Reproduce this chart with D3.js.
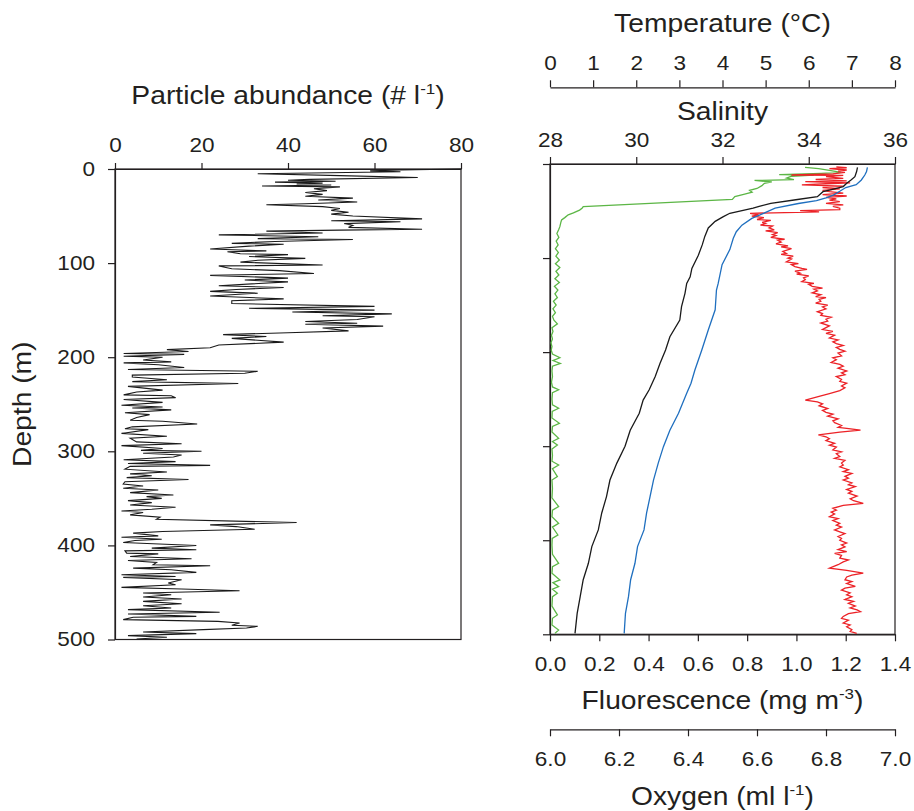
<!DOCTYPE html>
<html>
<head>
<meta charset="utf-8">
<script src="https://cdn.jsdelivr.net/npm/d3@7"></script>
<style>
  body { margin: 0; background: #fff; }
  text { font-family: "Liberation Sans", Arial, sans-serif; fill: #231f20; }
</style>
</head>
<body>
<svg id="drawing_region"></svg>
<script>
// ---- data: [depth (m), value] pairs ----
const particleProfile = [
  [0,80],[1,66],[2,59],[3,66],[5,33],[7,52],[9,70],[11,45],[12,40],[13,51],[14,37],[15,48],[16,42],
  [17,50],[18,34],[19,52],[21,46],[23,49],[25,44],[27,48],[29,44],[31,55],[33,47],[35,56],[37,44],
  [38,35],[40,48],[42,52],[44,50],[46,54],[48,50],[50,55],[53,71],[55,50],[56,66],[58,53],[60,55],
  [62,54],[64,71],[65,52],[66,35],[68,48],[70,24],[72,47],[74,33],[75,55],[77,37],[79,27],[80,39],
  [82,31],[85,22],[87,35],[88,26],[90,29],[91,40],[93,31],[95,44],[97,33],[99,29],[102,48],[103,24],
  [106,27],[108,38],[111,46],[113,22],[116,40],[118,30],[120,40],[124,24],[126,39],[128,28],[130,22],
  [132,33],[135,22],[138,39],[140,27],[143,27],[146,60],[148,31],[150,60],[152,41],[154,64],[156,48],
  [157,60],[160,56],[162,44],[164,56],[165,44],[167,62],[169,48],[172,54],[174,40],[176,25],[178,35],
  [180,27],[182,33],[184,39],[187,24],[190,22],[192,12],[194,17],[196,2],[197,16],[199,2],[200,11],
  [203,6.5],[205,13],[206,2],[208,10],[211,16],[213,3],[215,33],[217,30],[219,4],[221,4],[224,12],
  [226,4],[228,28.5],[231,3],[235,11],[237,5],[240,2],[241,13],[243,14],[245,2],[248,11],[251,1.5],
  [253,11],[254,4],[256,13],[259,2.3],[261,8],[264,5],[267,3.5],[268,11],[271,19],[274,4],[276,2.3],
  [277,7.7],[281,1.5],[284,12],[286,3.5],[290,5],[292,15.4],[294,1.5],[297,11],[299,6],[300,20],
  [302,6.5],[304,15.4],[306,13.5],[309,2],[311,14],[313,3],[315,22],[316,3.5],[319,2.3],[322,12],
  [324,3.5],[326,8.5],[328,2.7],[330,17],[332.3,2.3],[334.7,1.9],[336.9,6.5],[339.3,1.9],[341.1,10],
  [343.9,3.5],[346.4,13.5],[348.2,7.3],[350,10.8],[352.4,3],[354.5,8.5],[357,3.5],[359.5,14],
  [361.6,8.5],[363.4,1.5],[365.1,6.5],[367.6,3.5],[370.1,10.4],[372.2,9.6],[375.7,42],[378.2,22],
  [380,28],[382.8,32.3],[385.3,11],[387,4.2],[389.9,10],[391.3,1.5],[393.4,10.8],[394.8,4.6],
  [396.9,1.9],[398.3,8.8],[400.1,18.8],[402.9,8.5],[404.7,18.8],[405.8,2.3],[408.2,2.7],[409,10],
  [411.8,3.5],[414.2,17.7],[416,3],[418.1,9.6],[420.6,8.8],[421.7,22],[424.1,4.2],[425.9,13],
  [428.7,18.8],[431.2,1.5],[433,14],[434,1.9],[436.5,15.4],[440,12.3],[441.8,14],[444.6,1.5],
  [446.4,15.4],[448.2,28.8],[450.6,6.5],[452.4,13],[454.9,6.5],[457,15.4],[459.5,6.5],[462,15.4],
  [464.1,6.5],[466.5,13],[468.3,3],[471.1,24.2],[472.9,3],[475.4,18.8],[476.4,4.2],[478.9,1.9],
  [480.7,23.8],[482.4,28.8],[484.9,27],[486,33],[487.7,30.4],[489.5,20.4],[492,6.5],[493.8,18.8],
  [495.9,3],[497.6,12],[499.4,5]
];

const temperatureProfile = [
  [3.5,7.13],[8,7.11],[13.5,7.07],[17,6.98],[20.5,6.88],[24,6.8],[27.6,6.5],[29.4,6.33],[34.7,6.2],
  [38,5.7],[41.8,5.12],[45,4.85],[47,4.71],[52.4,4.17],[56,4.02],[61,3.83],[68,3.67],[77,3.59],
  [86,3.53],[97,3.44],[111,3.29],[120,3.25],[127,3.17],[137.5,3.13],[151.7,3.05],[166,3.01],
  [183.6,2.78],[197.7,2.68],[212,2.55],[226,2.44],[240,2.30],[251,2.16],[265,2.07],[283,1.86],
  [300,1.74],[318,1.55],[336,1.39],[353.6,1.31],[371,1.20],[389,1.12],[406.8,0.97],[424.5,0.89],
  [442,0.77],[460,0.70],[477.7,0.63],[499,0.58]
];

const salinityProfile = [
  [3.5,35.36],[8,35.34],[11.7,35.30],[17,35.22],[22,35.1],[25,34.86],[29,34.72],[33,34.57],
  [36,34.4],[39,34.18],[42,33.76],[47,33.22],[52.4,32.95],[57.8,32.68],[65,32.45],[72,32.32],
  [79,32.25],[91,32.17],[107,31.99],[127,31.9],[134,31.86],[155,31.83],[176.5,31.67],[197.7,31.52],
  [219,31.36],[233,31.27],[243.8,31.17],[265,30.98],[283,30.78],[300.5,30.63],[318,30.51],[336,30.40],
  [353.6,30.32],[371,30.24],[389,30.18],[406.8,30.03],[424.5,29.97],[442,29.87],[460,29.82],
  [477.7,29.75],[499,29.72]
];

const fluorescenceProfile = [
  [3.5,1.035],[5,1.09],[7,1.14],[9,1.18],[10,1.1],[11.2,0.93],[11.7,1.07],[13,0.98],[15,0.96],
  [16.7,0.99],[17.5,0.83],[19,0.9],[20.5,0.87],[23,0.86],[26,0.84],[28,0.81],[30,0.82],[32,0.79],
  [34.7,0.75],[37.6,0.74],[45.4,0.135],[47,0.13],[49,0.12],[52,0.095],[54,0.074],
  [57,0.06],[59.5,0.047],[62,0.044],[66.6,0.04],[70,0.035],[74,0.028],[78,0.036],[82,0.025],[86,0.033],
  [90,0.022],[94,0.034],[98,0.024],[102,0.038],[106,0.022],[110,0.04],[114,0.024],[118,0.036],
  [122,0.02],[126,0.038],[130,0.018],[134,0.032],[138,0.02],[142,0.03],[146,0.014],[150,0.025],
  [154,0.012],[158,0.022],[162,0.01],[166,0.016],[170,0.03],[174,0.008],[178,0.012],[182,0.006],
  [186,0.01],[190,0.004],[194,0.008],[198,0.005],[202,0.01],[206,0.04],[209,0.012],[212,0.042],
  [215,0.01],[220,0.008],[226,0.01],[232,0.006],[237,0.01],[240,0.035],[243,0.01],[250,0.008],
  [256,0.01],[259.7,0.035],[263,0.009],[270,0.008],[275.7,0.038],[279,0.01],[285,0.008],[291.6,0.035],
  [295,0.01],[298.7,0.03],[303,0.008],[310,0.01],[316,0.008],[320,0.035],[324,0.01],[332.4,0.03],
  [336,0.008],[345,0.01],[355,0.008],[364.3,0.035],[368,0.01],[375,0.008],[382,0.035],[386,0.01],
  [394.4,0.032],[398,0.009],[405,0.008],[415,0.01],[424.5,0.035],[428,0.01],[435,0.008],[442.2,0.04],
  [445,0.012],[449.3,0.035],[452,0.01],[456.4,0.03],[460,0.01],[470,0.008],[479.4,0.03],[483,0.01],
  [490,0.008],[495.4,0.035],[499,0.02]
];

const oxygenProfile = [
  [3,6.83],[4,6.86],[5,6.81],[6.4,6.86],[7.5,6.835],[9,6.855],[10.5,6.82],[11.7,6.70],[12,6.85],
  [13.5,6.8],[15.2,6.85],[16.5,6.77],[18,6.86],[18.8,6.74],[20,6.87],[21,6.8],[22.3,6.73],[23.5,6.85],
  [25,6.79],[26.5,6.84],[28,6.79],[29.4,6.81],[31,6.85],[32.5,6.79],[34,6.86],[35.5,6.8],[37,6.83],
  [38.5,6.81],[40,6.84],[41.8,6.8],[43.5,6.85],[45,6.82],[47,6.84],[48.5,6.84],[49.5,6.725],
  [51,6.78],[52.4,6.58],[54,6.605],[55.5,6.585],[57,6.62],[59,6.6],[60,6.64],[62,6.615],[63,6.625],
  [65,6.61],[66,6.645],[68,6.635],[70,6.65],[71,6.625],[73,6.66],[75,6.645],[76,6.655],[78,6.64],
  [80,6.68],[81,6.66],[83,6.67],[85,6.655],[87,6.69],[88,6.67],[90,6.7],[93,6.675],[95,6.685],
  [96,6.67],[98,6.705],[100,6.69],[101,6.7],[104,6.685],[106,6.72],[107,6.7],[109,6.71],[111,6.73],
  [112,6.745],[114,6.71],[116,6.725],[117,6.715],[119,6.75],[121,6.735],[123,6.74],[125,6.73],
  [127,6.765],[128,6.75],[130,6.76],[132,6.79],[133,6.765],[135,6.775],[137,6.76],[139,6.785],
  [141,6.77],[142,6.8],[144,6.78],[146,6.785],[148,6.77],[150,6.805],[152,6.79],[154,6.8],[157,6.775],
  [159,6.79],[161,6.785],[163,6.815],[165,6.8],[167,6.805],[169,6.785],[172,6.81],[174,6.8],
  [176,6.79],[178,6.82],[180,6.8],[182,6.825],[185,6.81],[187,6.835],[189,6.82],[191,6.83],
  [193,6.85],[195,6.83],[197,6.84],[199,6.855],[201,6.835],[204,6.845],[206,6.82],[208,6.83],
  [211,6.815],[213,6.84],[215,6.85],[217,6.835],[220,6.86],[222,6.845],[224,6.855],[226,6.83],
  [229,6.845],[231,6.84],[233,6.86],[236,6.845],[238,6.855],[241,6.84],[244,6.81],[247,6.78],
  [251,6.74],[253,6.775],[255,6.79],[257,6.78],[260,6.805],[262,6.79],[264,6.8],[266,6.82],
  [268,6.805],[271,6.835],[273,6.82],[275,6.825],[278,6.845],[280,6.835],[281,6.86],[283,6.9],
  [285,6.84],[288,6.778],[290,6.8],[292,6.81],[294,6.8],[297,6.825],[299,6.81],[301,6.83],[304,6.82],
  [306,6.845],[308,6.83],[311,6.84],[313,6.825],[315,6.855],[318,6.845],[320,6.85],[322,6.84],
  [325,6.865],[327,6.85],[329,6.875],[332,6.855],[334,6.865],[336,6.85],[339,6.875],[341,6.865],
  [343,6.885],[346,6.86],[348,6.875],[350,6.865],[353,6.89],[356,6.87],[358,6.88],[360.7,6.908],
  [363,6.85],[366,6.82],[368,6.83],[370,6.815],[372,6.825],[375,6.81],[377,6.835],[379,6.82],
  [382,6.84],[384,6.83],[386,6.845],[389,6.825],[391,6.84],[393,6.855],[396,6.835],[398,6.845],
  [400,6.84],[403,6.86],[405,6.845],[407,6.855],[410,6.835],[412,6.86],[414,6.825],[416,6.845],
  [419,6.84],[421,6.865],[423,6.85],[426,6.835],[429.8,6.81],[432,6.86],[435,6.908],[437,6.875],
  [439,6.86],[442,6.855],[444,6.875],[446,6.86],[449,6.885],[451,6.855],[453,6.845],[456,6.87],
  [458,6.86],[460,6.875],[463,6.855],[465,6.88],[467,6.865],[470,6.885],[472,6.87],[474,6.89],
  [476,6.9],[478,6.865],[481,6.85],[483,6.845],[485,6.865],[488,6.85],[490,6.87],[492,6.86],
  [495,6.875],[497,6.87],[499,6.889]
];

const particleTicks = [0, 20, 40, 60, 80];
const depthTicks = [0, 100, 200, 300, 400, 500];
const temperatureTicks = [0, 1, 2, 3, 4, 5, 6, 7, 8];
const salinityTicks = [28, 30, 32, 34, 36];
const fluorescenceTicks = [0, 0.2, 0.4, 0.6, 0.8, 1.0, 1.2, 1.4];
const oxygenTicks = [6.0, 6.2, 6.4, 6.6, 6.8, 7.0];

// ---- layout ----
const SX = 1.13;          // the original lettering is a bit wider than Arial
const AXIS = '#231f20';
const left  = {x0: 115, x1: 461, y0: 169, y1: 639.5};
const right = {x0: 550, x1: 895, y0: 164, y1: 634.3};

const svg = d3.select('#drawing_region')
    .attr('width', 914)
    .attr('height', 811);

function styleAxis(g, fontSize) {
    g.selectAll('line').attr('stroke', AXIS).attr('stroke-width', 1.2);
    g.selectAll('path.domain').attr('stroke', AXIS).attr('stroke-width', 1.2);
    g.selectAll('text')
        .style('font-size', fontSize + 'px')
        .attr('fill', AXIS)
        .attr('x', function() { return (+d3.select(this).attr('x') || 0) / SX; })
        .attr('transform', `scale(${SX},1)`);
}

function addTitle(x, y, main, sup, rotate) {
    const t = svg.append('text')
        .attr('text-anchor', 'middle')
        .attr('transform', `translate(${x},${y})` + (rotate ? ' rotate(-90)' : '') + ` scale(${SX},1)`)
        .style('font-size', '25px');
    t.append('tspan').text(main);
    if (sup) {
        t.append('tspan').attr('dy', -10).style('font-size', '15px').text(sup);
        t.append('tspan').attr('dy', 10).text(')');
    }
}

// ---- left panel: particle abundance ----
const px = d3.scaleLinear().domain([0, 80]).range([left.x0, left.x1]);
const py = d3.scaleLinear().domain([0, 500]).range([left.y0, left.y1]);

svg.append('rect')
    .attr('x', left.x0).attr('y', left.y0)
    .attr('width', left.x1 - left.x0).attr('height', left.y1 - left.y0)
    .attr('fill', 'none').attr('stroke', AXIS).attr('stroke-width', 1.2);

svg.append('g')
    .attr('transform', `translate(0,${left.y0})`)
    .call(d3.axisTop(px).tickValues(particleTicks).tickSize(6).tickSizeOuter(0).tickPadding(11))
    .call(g => styleAxis(g, 20));

svg.append('g')
    .attr('transform', `translate(${left.x0},0)`)
    .call(d3.axisLeft(py).tickValues(depthTicks).tickSize(7).tickSizeOuter(0).tickPadding(13))
    .call(g => styleAxis(g, 20));

svg.append('path')
    .attr('d', d3.line().x(d => px(d[1])).y(d => py(d[0]))(particleProfile))
    .attr('fill', 'none')
    .attr('stroke', '#1a1a1a')
    .attr('stroke-width', 1.1);

addTitle((left.x0 + left.x1) / 2, 104, 'Particle abundance (# l', '-1');
addTitle(31, (left.y0 + left.y1) / 2, 'Depth (m)', null, true);

// ---- right panel: CTD profiles ----
const tx = d3.scaleLinear().domain([0, 8]).range([right.x0, right.x1]);
const sx = d3.scaleLinear().domain([28, 36]).range([right.x0, right.x1]);
const fx = d3.scaleLinear().domain([0, 1.4]).range([right.x0, right.x1]);
const ox = d3.scaleLinear().domain([6, 7]).range([right.x0, right.x1]);
const ry = d3.scaleLinear().domain([0, 500]).range([right.y0, right.y1]);

svg.append('rect')
    .attr('x', right.x0).attr('y', right.y0)
    .attr('width', right.x1 - right.x0).attr('height', right.y1 - right.y0)
    .attr('fill', 'none').attr('stroke', AXIS).attr('stroke-width', 1.2);

svg.append('g')
    .attr('transform', `translate(${right.x0},0)`)
    .call(d3.axisLeft(ry).tickValues(depthTicks).tickSize(7).tickSizeOuter(0).tickFormat(''))
    .call(g => styleAxis(g, 20));

svg.append('g')
    .attr('transform', `translate(0,${right.y0})`)
    .call(d3.axisTop(sx).tickValues(salinityTicks).tickSize(7).tickSizeOuter(0).tickPadding(10))
    .call(g => styleAxis(g, 20));

svg.append('g')
    .attr('transform', 'translate(0,87.3)')
    .call(d3.axisTop(tx).tickValues(temperatureTicks).tickSize(7).tickSizeOuter(0).tickPadding(10))
    .call(g => styleAxis(g, 20));

svg.append('g')
    .attr('transform', `translate(0,${right.y1})`)
    .call(d3.axisBottom(fx).tickValues(fluorescenceTicks).tickSize(7).tickSizeOuter(0)
        .tickPadding(16).tickFormat(d3.format('.1f')))
    .call(g => styleAxis(g, 20));

svg.append('g')
    .attr('transform', 'translate(0,729.3)')
    .call(d3.axisBottom(ox).tickValues(oxygenTicks).tickSize(7).tickSizeOuter(0)
        .tickPadding(16).tickFormat(d3.format('.1f')))
    .call(g => styleAxis(g, 20));

const profiles = [
    {data: fluorescenceProfile, scale: fx, color: '#5cb646'},
    {data: oxygenProfile,       scale: ox, color: '#ec2227'},
    {data: salinityProfile,     scale: sx, color: '#1f6fbf'},
    {data: temperatureProfile,  scale: tx, color: '#1a1a1a'}
];

profiles.forEach(p => {
    svg.append('path')
        .attr('d', d3.line().x(d => p.scale(d[1])).y(d => ry(d[0]))(p.data))
        .attr('fill', 'none')
        .attr('stroke', p.color)
        .attr('stroke-width', 1.3);
});

addTitle((right.x0 + right.x1) / 2, 32, 'Temperature (°C)');
addTitle((right.x0 + right.x1) / 2, 120, 'Salinity');
addTitle((right.x0 + right.x1) / 2, 709, 'Fluorescence (mg m', '-3');
addTitle((right.x0 + right.x1) / 2, 805, 'Oxygen (ml l', '-1');
</script>
</body>
</html>
